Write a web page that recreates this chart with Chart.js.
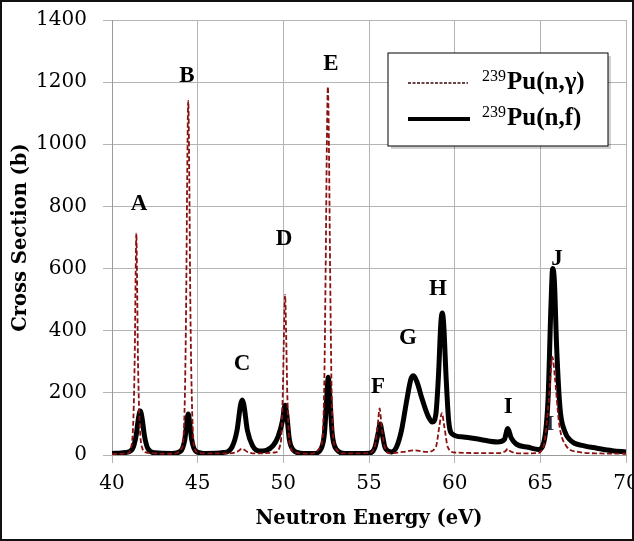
<!DOCTYPE html>
<html>
<head>
<meta charset="utf-8">
<script src="https://cdn.jsdelivr.net/npm/chart.js@4/dist/chart.umd.min.js"></script>
<style>
  html, body { margin: 0; padding: 0; background: #fff; }
  #frame {
    position: absolute; left: 0; top: 0;
    width: 634px; height: 541px;
    box-sizing: border-box;
    border: 2px solid #111;
    background: #fff;
  }
  #chart { display: block; }
</style>
</head>
<body>
<div id="frame"><canvas id="chart" width="630" height="537"></canvas></div>
<script>
// 239Pu(n,f) - fission
const fissionE = [
  40.0, 40.8, 41.2, 41.4, 41.55, 41.65, 41.75, 41.9, 42.1, 42.5,
  43.5, 44.0, 44.25, 44.38, 44.45, 44.52, 44.65, 44.9, 45.5,
  46.5, 47.0, 47.3, 47.5, 47.6, 47.7, 47.9, 48.2, 48.6,
  49.0, 49.4, 49.7, 49.95, 50.1, 50.2, 50.35, 50.6, 51.0,
  51.8, 52.2, 52.4, 52.55, 52.62, 52.7, 52.85, 53.1, 53.6,
  55.0, 55.35, 55.55, 55.65, 55.75, 55.95, 56.3,
  56.6, 56.9, 57.2, 57.45, 57.6, 57.8, 58.1, 58.45, 58.7,
  58.9, 59.05, 59.2, 59.28, 59.36, 59.5, 59.65, 59.85,
  60.5, 61.5, 62.5, 62.9, 63.1, 63.3, 63.6, 64.3, 64.9,
  65.2, 65.45, 65.62, 65.72, 65.82, 65.95, 66.15, 66.4, 66.8,
  67.5, 68.3, 69.2, 70.0
];
const fissionXS = [
  5, 8, 20, 60, 120, 142, 120, 60, 20, 7,
  5, 12, 50, 110, 132, 110, 50, 12, 5,
  8, 25, 80, 160, 177, 160, 80, 30, 13,
  15, 30, 60, 110, 160, 130, 50, 15, 6,
  5, 20, 70, 200, 250, 200, 70, 18, 5,
  6, 25, 75, 100, 75, 22, 10,
  25, 80, 175, 245, 255, 235, 180, 125, 106,
  130, 250, 430, 457, 420, 250, 110, 68,
  58, 50, 42, 50, 85, 55, 35, 25, 18,
  40, 180, 480, 600, 560, 350, 150, 80, 45,
  30, 22, 14, 10
];

// 239Pu(n,gamma) - capture
const captureE = [
  40.0, 40.9, 41.1, 41.25, 41.33, 41.38, 41.42, 41.46, 41.51, 41.6, 41.75, 42.0,
  43.5, 44.1, 44.25, 44.33, 44.39, 44.45, 44.51, 44.57, 44.66, 44.8, 45.1,
  46.8, 47.3, 47.6, 47.9, 48.5,
  49.5, 49.85, 49.97, 50.04, 50.1, 50.16, 50.23, 50.36, 50.6, 51.5,
  52.2, 52.38, 52.47, 52.54, 52.6, 52.66, 52.73, 52.82, 53.0, 53.5,
  55.0, 55.35, 55.5, 55.62, 55.74, 55.9, 56.2,
  57.0, 57.6, 58.4, 58.9, 59.1, 59.25, 59.4, 59.6, 60.0,
  62.5, 62.95, 63.1, 63.25, 63.8,
  64.8, 65.2, 65.5, 65.7, 65.85, 66.1, 66.5, 67.2, 68.5, 70.0
];
const captureXS = [
  3, 5, 20, 120, 330, 580, 714, 580, 330, 120, 25, 8,
  4, 25, 180, 500, 900, 1140, 900, 500, 180, 25, 6,
  5, 10, 20, 10, 5,
  8, 40, 200, 400, 515, 400, 200, 40, 10, 4,
  30, 200, 600, 1000, 1185, 1000, 600, 200, 30, 5,
  6, 30, 90, 150, 90, 30, 6,
  10, 15, 10, 25, 90, 135, 90, 25, 8,
  6, 12, 20, 12, 5,
  6, 30, 180, 316, 250, 100, 30, 10, 5, 4
];

const xTicks = [40, 45, 50, 55, 60, 65, 70];
const yTicks = [0, 200, 400, 600, 800, 1000, 1200, 1400];

// resonance letters
const peakNames = ["A", "B", "C", "D", "E", "F", "G", "H", "I", "J"];
const peakE     = [41.58, 44.38, 47.59, 50.04, 52.78, 55.53, 57.28, 59.03, 63.12, 65.98];
const peakXS    = [808, 1220, 293, 695, 1258, 219, 377, 534, 155, 630];
const extraName = "I";
const extraE = 65.57, extraXS = 100;

const capColor = "#8b1010";

function pts(xs, ys) {
  return xs.map((x, i) => ({ x: x, y: ys[i] }));
}

const letterPlugin = {
  id: "letters",
  beforeDatasetsDraw(chart) {
    const { ctx, scales } = chart;
    ctx.save();
    ctx.font = "bold 22px 'Liberation Serif', serif";
    ctx.fillStyle = "#2a2f40";
    ctx.textAlign = "center";
    ctx.textBaseline = "middle";
    ctx.fillText(extraName, scales.x.getPixelForValue(extraE), scales.y.getPixelForValue(extraXS));
    ctx.restore();
  },
  afterDatasetsDraw(chart) {
    const { ctx, scales } = chart;
    ctx.save();
    ctx.font = "bold 23px 'Liberation Serif', serif";
    ctx.fillStyle = "#000";
    ctx.textAlign = "center";
    ctx.textBaseline = "middle";
    peakNames.forEach((n, i) => {
      ctx.fillText(n, scales.x.getPixelForValue(peakE[i]), scales.y.getPixelForValue(peakXS[i]));
    });

    // legend box
    const bx = 386, by = 51, bw = 220, bh = 93;
    ctx.fillStyle = "rgba(0,0,0,0.18)";
    ctx.fillRect(bx + 3, by + 3, bw, bh);
    ctx.fillStyle = "#fff";
    ctx.fillRect(bx, by, bw, bh);
    ctx.strokeStyle = "#000";
    ctx.lineWidth = 1;
    ctx.strokeRect(bx, by, bw, bh);

    ctx.beginPath();
    ctx.setLineDash([3, 1.5]);
    ctx.strokeStyle = "#3a0808";
    ctx.lineWidth = 1.6;
    ctx.moveTo(406, 81);
    ctx.lineTo(466, 81);
    ctx.stroke();
    ctx.setLineDash([]);
    ctx.beginPath();
    ctx.strokeStyle = "#000";
    ctx.lineWidth = 4;
    ctx.moveTo(406, 117);
    ctx.lineTo(468, 117);
    ctx.stroke();

    ctx.textAlign = "left";
    ctx.textBaseline = "alphabetic";
    ctx.fillStyle = "#000";
    const rows = [["Pu(n,\u03b3)", 87], ["Pu(n,f)", 123]];
    rows.forEach(r => {
      ctx.font = "16px 'Liberation Serif', serif";
      ctx.fillText("239", 480, r[1] - 8);
      ctx.font = "bold 25px 'Liberation Serif', serif";
      ctx.fillText(r[0], 505, r[1]);
    });
    ctx.restore();
  }
};

new Chart(document.getElementById("chart"), {
  type: "scatter",
  data: {
    datasets: [
      {
        label: "239Pu(n,\u03b3)",
        data: pts(captureE, captureXS),
        showLine: true,
        borderColor: capColor,
        borderWidth: 1.8,
        borderDash: [5, 2.5],
        pointRadius: 0,
        cubicInterpolationMode: "monotone",
        order: 0
      },
      {
        label: "239Pu(n,f)",
        data: pts(fissionE, fissionXS),
        showLine: true,
        borderColor: "#000",
        borderWidth: 5,
        pointRadius: 0,
        cubicInterpolationMode: "monotone",
        order: 1
      }
    ]
  },
  options: {
    responsive: false,
    animation: false,
    events: [],
    layout: { padding: { top: 18, right: 6, left: 0, bottom: 0 } },
    plugins: {
      legend: { display: false },
      tooltip: { enabled: false }
    },
    scales: {
      x: {
        type: "linear",
        min: 40,
        max: 70,
        afterBuildTicks(scale) { scale.ticks = xTicks.map(v => ({ value: v })); },
        afterFit(scale) { scale.height = 84; scale.paddingLeft = 0; scale.paddingRight = 0; },
        grid: { color: "#b4b4b4", lineWidth: 1, tickLength: 8 },
        border: { color: "#9a9a9a" },
        ticks: {
          padding: 9,
          color: "#000",
          callback: v => String(v),
          font: { family: "'DejaVu Serif', serif", size: 20 }
        },
        title: {
          display: true,
          text: "Neutron Energy (eV)",
          color: "#000",
          padding: { top: 4, bottom: 8 },
          font: { family: "'DejaVu Serif', serif", size: 19.5, weight: "bold" }
        }
      },
      y: {
        min: 0,
        max: 1400,
        afterBuildTicks(scale) { scale.ticks = yTicks.map(v => ({ value: v })); },
        afterFit(scale) { scale.width = 110; scale.paddingTop = 0; scale.paddingBottom = 0; },
        grid: { color: "#b4b4b4", lineWidth: 1, tickLength: 9 },
        border: { color: "#9a9a9a" },
        ticks: {
          padding: 16,
          color: "#000",
          callback: v => String(v),
          font: { family: "'DejaVu Serif', serif", size: 20 }
        },
        title: {
          display: true,
          text: "Cross Section (b)",
          color: "#000",
          padding: { top: 7, bottom: 0 },
          font: { family: "'DejaVu Serif', serif", size: 19.5, weight: "bold" }
        }
      }
    }
  },
  plugins: [letterPlugin]
});
</script>
</body>
</html>
